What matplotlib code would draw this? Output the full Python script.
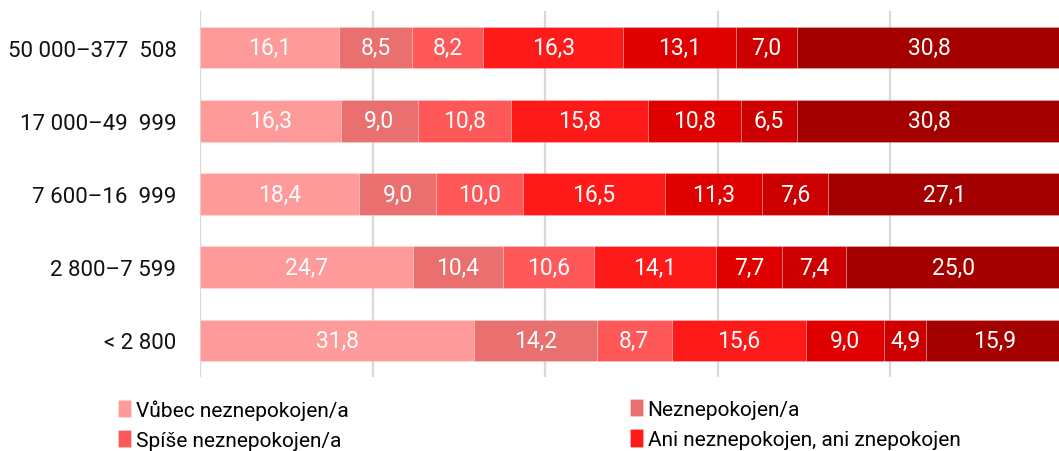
import matplotlib.pyplot as plt
import numpy as np

plt.rcParams['font.family'] = ['Roboto', 'DejaVu Sans']

groups = ['50 000–377  508', '17 000–49  999', '7 600–16  999', '2 800–7 599', '< 2 800']
answers = ['Vůbec neznepokojen/a', 'Neznepokojen/a', 'Spíše neznepokojen/a',
           'Ani neznepokojen, ani znepokojen', 'Spíše znepokojen/a',
           'Znepokojen/a', 'Velmi znepokojen/a']
colors = ['#FF9A9A', '#EA6F6F', '#FF5858', '#FF1A1A', '#E00000', '#CC0000', '#A50000']

# one row per answer, one column per group
values = np.array([
    [16.1, 16.3, 18.4, 24.7, 31.8],
    [8.5, 9.0, 9.0, 10.4, 14.2],
    [8.2, 10.8, 10.0, 10.6, 8.7],
    [16.3, 15.8, 16.5, 14.1, 15.6],
    [13.1, 10.8, 11.3, 7.7, 9.0],
    [7.0, 6.5, 7.6, 7.4, 4.9],
    [30.8, 30.8, 27.1, 25.0, 15.9],
])

fig = plt.figure(figsize=(10.59, 4.52), dpi=100)
ax = fig.add_axes([200 / 1059, 1 - 378 / 452, 862.5 / 1059, 366 / 452])

y = np.arange(len(groups))
left = np.zeros(len(groups))
handles = []
for vals, col, name in zip(values, colors, answers):
    bars = ax.barh(y, vals, left=left, height=0.57, color=col,
                   edgecolor=(1, 1, 1, 0.25), linewidth=0.6, label=name, zorder=2)
    handles.append(bars)
    for yi, l, v in zip(y, left, vals):
        ax.text(l + v / 2, yi, f'{v:.1f}'.replace('.', ','), ha='center', va='center',
                color='white', fontsize=16.5, zorder=3)
    left += vals

ax.set_xlim(0, 100)
ax.set_ylim(len(groups) - 0.5, -0.5)
ax.set_yticks(y)
ax.set_yticklabels(groups, fontsize=16, color='#111111')
ax.tick_params(axis='y', length=0, pad=17)
ax.tick_params(axis='x', length=0, labelbottom=False)
ax.set_xticks([0, 20, 40, 60, 80, 100])
ax.grid(axis='x', color='#D9D9D9', linewidth=1.6, zorder=0)
for s in ax.spines.values():
    s.set_visible(False)

# only the first two legend rows fit in the picture; rows run left to right
leg_kw = dict(frameon=False, fontsize=15, handlelength=0.6, handleheight=0.9,
              handletextpad=0.25, labelspacing=0.5, borderpad=0, borderaxespad=0,
              loc='upper left')
fig.legend([handles[0], handles[2]], [answers[0], answers[2]],
           bbox_to_anchor=(118 / 1059, 1 - 400 / 452), **leg_kw)
fig.legend([handles[1], handles[3]], [answers[1], answers[3]],
           bbox_to_anchor=(630 / 1059, 1 - 400 / 452), **leg_kw)

fig.savefig('out.png', dpi=100)
